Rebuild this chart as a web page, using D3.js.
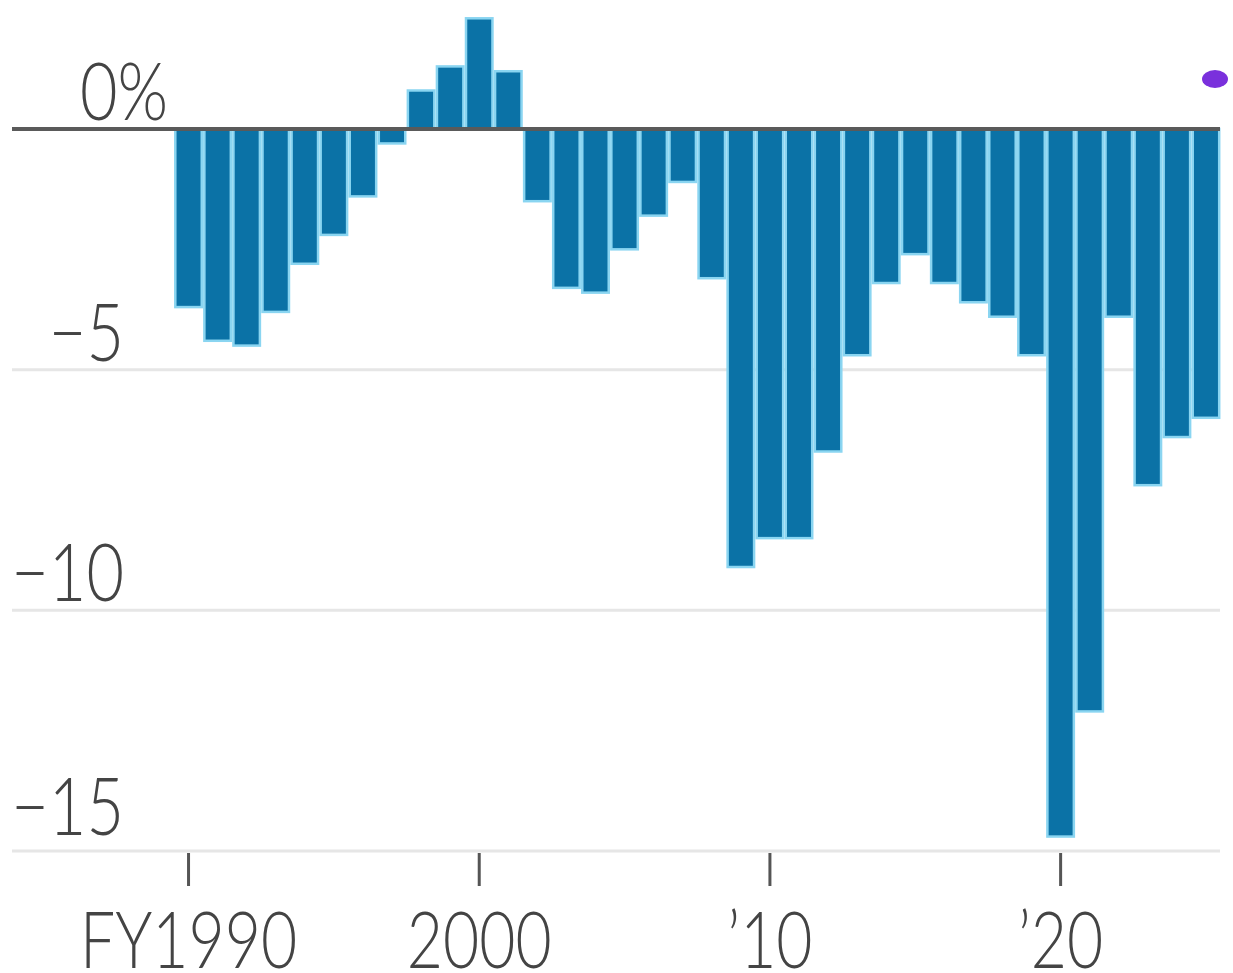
<!DOCTYPE html>
<html>
<head>
<meta charset="utf-8">
<script src="https://cdn.jsdelivr.net/npm/d3@7"></script>
<style>
  html, body { margin: 0; padding: 0; background: #fff; overflow: hidden; }
  svg { display: block; }
  text { font-family: Lato, "Open Sans", "DejaVu Sans", sans-serif; font-weight: 300; fill: #444; }
</style>
</head>
<body>
<svg id="chart" width="1233" height="973"></svg>
<script>
// Federal budget balance, share of GDP, by fiscal year
const years = [
  1990, 1991, 1992, 1993, 1994, 1995, 1996, 1997, 1998, 1999,
  2000, 2001, 2002, 2003, 2004, 2005, 2006, 2007, 2008, 2009,
  2010, 2011, 2012, 2013, 2014, 2015, 2016, 2017, 2018, 2019,
  2020, 2021, 2022, 2023, 2024, 2025
];
const balance = [
  -3.7, -4.4, -4.5, -3.8, -2.8, -2.2, -1.4, -0.3, 0.8, 1.3,
  2.3, 1.2, -1.5, -3.3, -3.4, -2.5, -1.8, -1.1, -3.1, -9.1,
  -8.5, -8.5, -6.7, -4.7, -3.2, -2.6, -3.2, -3.6, -3.9, -4.7,
  -14.7, -12.1, -3.9, -7.4, -6.4, -6.0
];
const yTicks = [0, -5, -10, -15];
const yTickLabels = ["0%", "\u22125", "\u221210", "\u221215"];
const xTicks = [1990, 2000, 2010, 2020];
const xTickLabels = ["FY1990", "2000", "\u201910", "\u201920"];

const svg = d3.select("#chart");
const W = 1233, H = 973;
const lineLeft = 12, lineRight = 1220;
const textScale = 0.8;

const x = d3.scaleBand()
  .domain(years)
  .range([174, 1220.5])
  .paddingInner(0.09)
  .paddingOuter(0.045);

const y = d3.scaleLinear()
  .domain([-15, 0])
  .range([851, 129]);

const data = years.map((yr, i) => ({ year: yr, value: balance[i] }));

// horizontal gridlines below zero
svg.append("g").attr("class", "grid")
  .selectAll("line")
  .data(yTicks.filter(v => v !== 0))
  .join("line")
  .attr("x1", lineLeft).attr("x2", lineRight)
  .attr("y1", d => y(d)).attr("y2", d => y(d))
  .attr("stroke", "#e6e6e6")
  .attr("stroke-width", 3);

// bars
svg.append("g").attr("class", "bars")
  .selectAll("rect")
  .data(data)
  .join("rect")
  .attr("x", d => x(d.year))
  .attr("width", x.bandwidth())
  .attr("y", d => y(Math.max(0, d.value)))
  .attr("height", d => Math.abs(y(d.value) - y(0)))
  .attr("fill", "#0b72a6")
  .attr("stroke", "#8ad5f1")
  .attr("stroke-width", 2.5);

// zero line
svg.append("line")
  .attr("x1", lineLeft).attr("x2", lineRight)
  .attr("y1", y(0)).attr("y2", y(0))
  .attr("stroke", "#5a5a5a")
  .attr("stroke-width", 4);

// y tick labels
const yLab = svg.append("g").attr("class", "y-labels")
  .selectAll("g")
  .data(yTicks.map((v, i) => ({ v, label: yTickLabels[i] })))
  .join("g")
  .attr("transform", d => {
    const xx = d.v === 0 ? 168 : 124;
    const off = d.v === -15 ? 16 : 9;
    return `translate(${xx},${y(d.v) - off})`;
  });
yLab.append("text")
  .attr("text-anchor", "end")
  .attr("transform", `scale(${textScale},1)`)
  .attr("font-size", 81)
  .text(d => d.label);

// x ticks
const xc = d => x(d) + x.bandwidth() / 2;
svg.append("g").attr("class", "x-ticks")
  .selectAll("line")
  .data(xTicks)
  .join("line")
  .attr("x1", xc).attr("x2", xc)
  .attr("y1", 853).attr("y2", 886)
  .attr("stroke", "#555")
  .attr("stroke-width", 3);

const xLab = svg.append("g").attr("class", "x-labels")
  .selectAll("g")
  .data(xTicks.map((v, i) => ({ v, label: xTickLabels[i] })))
  .join("g")
  .attr("transform", d => `translate(${xc(d.v)},968)`);
xLab.append("text")
  .attr("text-anchor", "middle")
  .attr("transform", `scale(${textScale},1)`)
  .attr("font-size", 78)
  .text(d => d.label);

// key marker at top right
svg.append("ellipse")
  .attr("cx", 1215).attr("cy", 79)
  .attr("rx", 13).attr("ry", 9)
  .attr("fill", "#7a30dc");
</script>
</body>
</html>
